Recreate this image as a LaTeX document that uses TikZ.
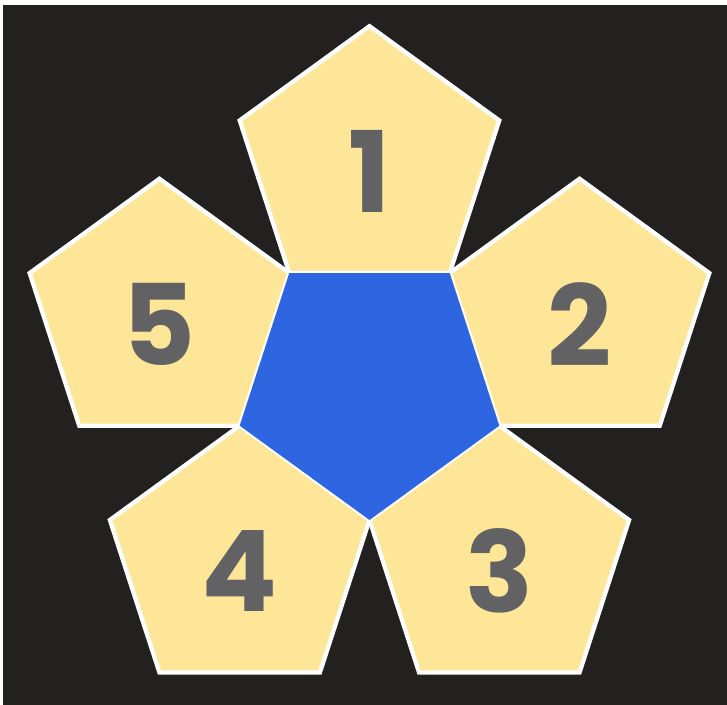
\documentclass[tikz,border=0pt]{standalone}
\usepackage{fontspec}
\newfontfamily\numfont{Poppins}
\usetikzlibrary{shapes.geometric}
\definecolor{slate}{RGB}{34,33,32}
\definecolor{butter}{RGB}{253,230,152}
\definecolor{royal}{RGB}{46,102,226}
\definecolor{ink}{RGB}{98,98,100}

\tikzset{
  face/.style={regular polygon,regular polygon sides=5,minimum size=2.73cm,inner sep=0pt},
  petal/.style={face,fill=butter,draw=white,line width=1.2pt,line join=miter},
  hub/.style={face,fill=royal,shape border rotate=180},
  digit/.style={font=\numfont\bfseries\fontsize{32}{32}\selectfont,text=ink}
}

\begin{document}
\begin{tikzpicture}[x=1cm,y=1cm]
  % frame: thin white strip on the left and top, dark field
  \fill[white] (-3.695,-3.215) rectangle (3.575,3.835);
  \fill[slate] (-3.665,-3.215) rectangle (3.575,3.785);
  \useasboundingbox (-3.695,-3.215) rectangle (3.575,3.835);
  % the five faces round the centre, numbered clockwise from the top
  \foreach \n/\ang in {1/90,2/18,3/-54,4/-126,5/162}{
    \node[petal] (p\n) at (\ang:2.2086) {};
    \node[digit] (n\n) at ([yshift=-0.09cm]p\n.center) {\n};
  }
  % the centre face
  \node[hub] (c) at (0,0) {};
\end{tikzpicture}
\end{document}
